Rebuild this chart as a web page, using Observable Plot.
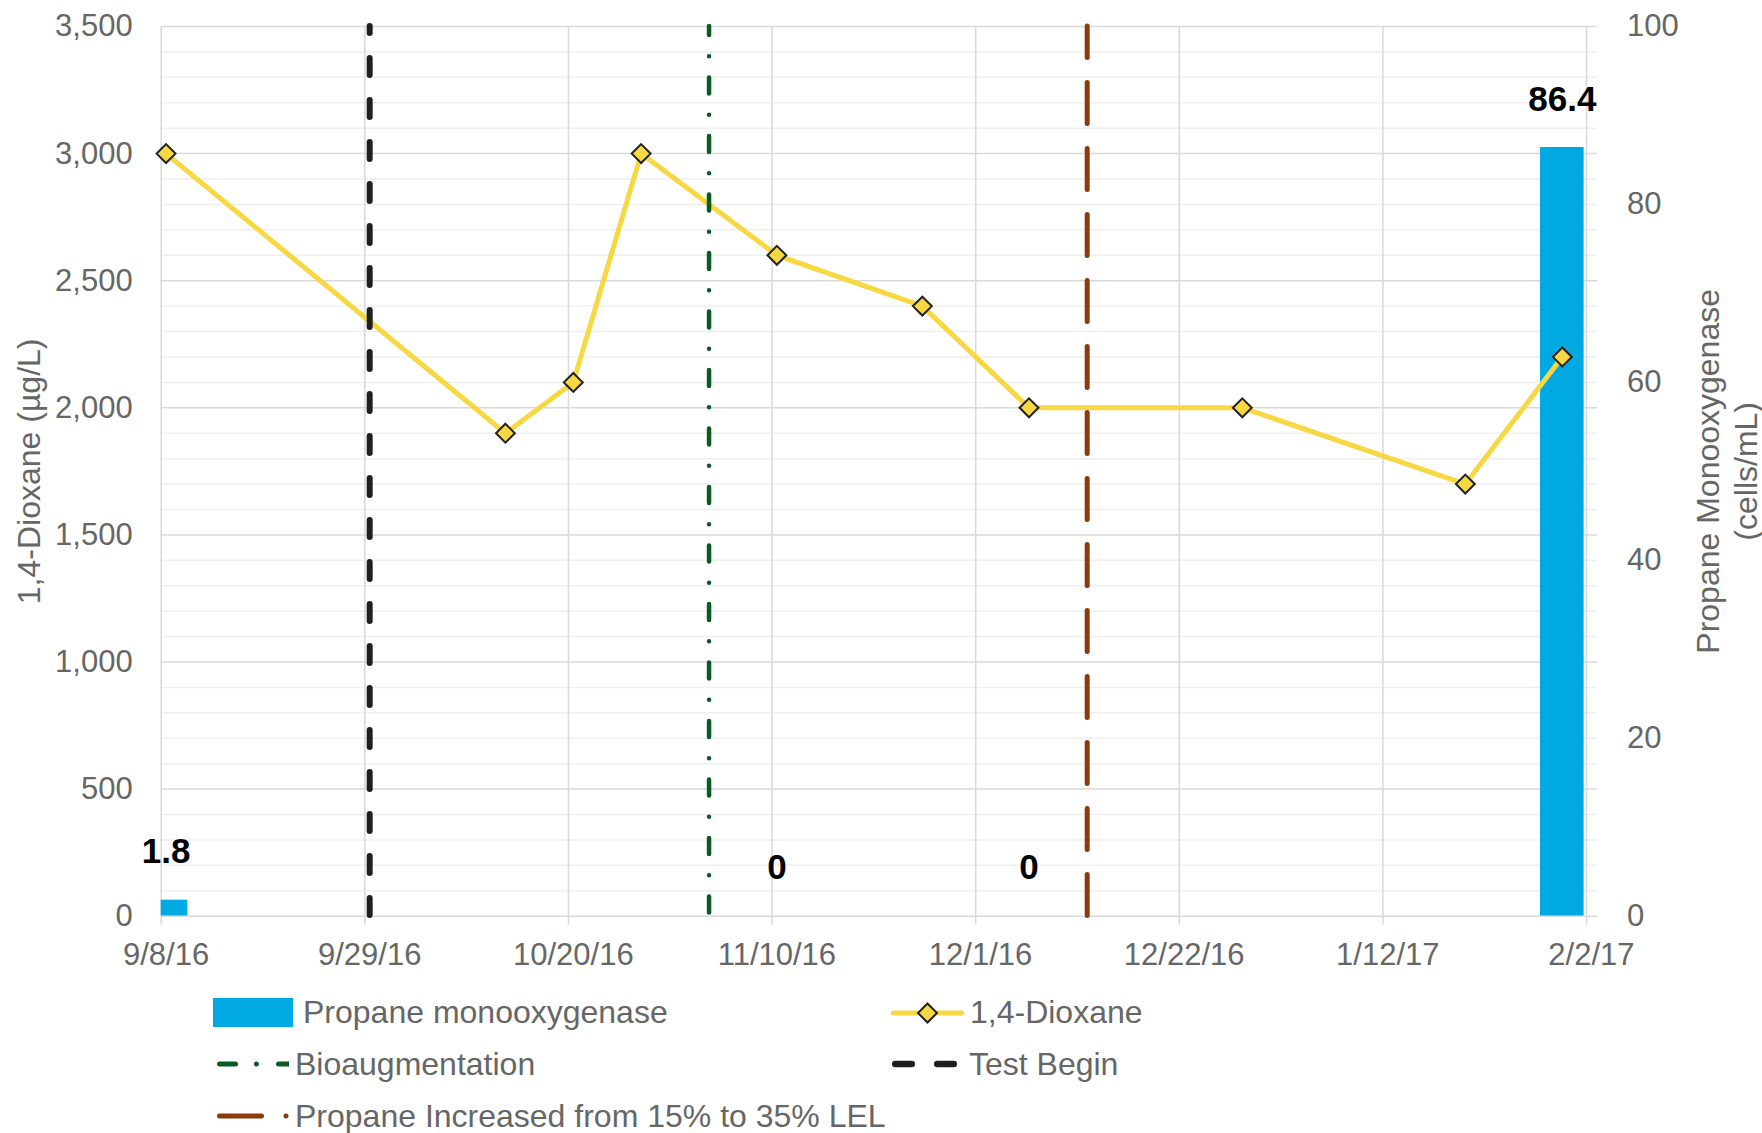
<!DOCTYPE html>
<html><head><meta charset="utf-8">
<script src="https://cdn.jsdelivr.net/npm/d3@7"></script>
<script src="https://cdn.jsdelivr.net/npm/@observablehq/plot@0.6"></script>
<style>
html,body{margin:0;padding:0;background:#fff;overflow:hidden;width:1762px;height:1133px;}
#chart svg{display:block;max-width:none;}
#legend{position:relative;width:1762px;height:153px;font-family:"Liberation Sans",Arial,sans-serif;font-size:32px;color:#666;}
.item{position:absolute;display:flex;align-items:center;height:40px;white-space:nowrap;}
.item svg{display:block;flex:none;}
</style></head>
<body>
<div id="chart"></div>
<div id="legend"></div>
<script>
// ---- data ----
const dioxaneDates = ["2016-09-08","2016-10-13","2016-10-20","2016-10-27","2016-11-10","2016-11-25","2016-12-06","2016-12-28","2017-01-20","2017-01-30"];
const dioxaneValues = [3000,1900,2100,3000,2600,2400,2000,2000,1700,2200];
const pmoDates = ["2016-09-08","2016-11-10","2016-12-06","2017-01-30"];
const pmoValues = [1.8,0,0,86.4];
const testBeginDate = "2016-09-29";
const bioaugDate = "2016-11-03";
const propaneIncDate = "2016-12-12";
const xTickDates = ["2016-09-08","2016-09-29","2016-10-20","2016-11-10","2016-12-01","2016-12-22","2017-01-12","2017-02-02"];
const leftTicks = [0,500,1000,1500,2000,2500,3000,3500];
const leftMinorTicks = [100,200,300,400,600,700,800,900,1100,1200,1300,1400,1600,1700,1800,1900,2100,2200,2300,2400,2600,2700,2800,2900,3100,3200,3300,3400];
const rightTicks = [0,20,40,60,80,100];
const leftMax = 3500, rightMax = 100;

// ---- helpers ----
const DAY = 864e5;
const parse = s => new Date(s + "T00:00:00Z");
const mid = s => new Date(+parse(s) + DAY / 2);
const ratio = leftMax / rightMax;
const barHalf = 2.25 * DAY;

const diox = dioxaneDates.map((d, i) => ({date: mid(d), value: dioxaneValues[i]}));
const pmo = pmoDates.map((d, i) => ({date: mid(d), x1: new Date(+mid(d) - barHalf), x2: new Date(+mid(d) + barHalf), value: pmoValues[i]}));
const xStart = parse(xTickDates[0]);
const xEnd = new Date(+parse(xTickDates[xTickDates.length - 1]) + 1.13 * DAY);

const font = '"Liberation Sans", Arial, sans-serif';
const W = 1762, H = 980;

const chart = Plot.plot({
  width: W, height: H,
  marginLeft: 160.7, marginRight: 165, marginTop: 26, marginBottom: H - 915.7,
  style: {fontFamily: font, fontSize: "31px", color: "#666", background: "#fff", overflow: "visible"},
  x: {type: "utc", domain: [xStart, xEnd]},
  y: {domain: [0, leftMax]},
  marks: [
    Plot.ruleY(leftMinorTicks, {stroke: "#efefef", strokeWidth: 1.5}),
    Plot.ruleY(leftTicks, {stroke: "#d9d9d9", strokeWidth: 1.5}),
    Plot.ruleX(xTickDates.map(parse), {stroke: "#d9d9d9", strokeWidth: 1.5, insetBottom: -9}),
    Plot.rect(pmo, {x1: "x1", x2: "x2", y1: 0, y2: d => d.value * ratio, fill: "#00A9E2", clip: true}),
    Plot.line(diox, {x: "date", y: "value", stroke: "#F7D843", strokeWidth: 5}),
    Plot.ruleX([mid(testBeginDate)], {stroke: "#1f1f1f", strokeWidth: 6, strokeDasharray: "17,25", strokeLinecap: "round", strokeDashoffset: 10}),
    Plot.ruleX([mid(bioaugDate)], {stroke: "#0B5A24", strokeWidth: 4.5, strokeDasharray: "16,21.25,0,21.25", strokeLinecap: "round", strokeDashoffset: 7}),
    Plot.ruleX([mid(propaneIncDate)], {stroke: "#8B3A0E", strokeWidth: 5, strokeDasharray: "41,25", strokeLinecap: "round", strokeDashoffset: 9.5}),
    Plot.dot(diox, {x: "date", y: "value", symbol: "diamond2", r: 8.5, fill: "#F7D843", stroke: "#222", strokeWidth: 2}),
    Plot.text(pmo, {x: "date", y: d => d.value * ratio, text: d => String(d.value), dy: -48, fontSize: 35, fontWeight: "bold", fill: "#000"}),
    Plot.axisX({ticks: xTickDates.map(mid), tickSize: 0, tickPadding: 27, tickFormat: d3.utcFormat("%-m/%-d/%y"), label: null}),
    Plot.axisY({anchor: "left", ticks: leftTicks, tickSize: 0, tickPadding: 28.5, tickFormat: d3.format(","), label: null}),
    Plot.axisY({anchor: "right", ticks: rightTicks.map(v => v * ratio), tickSize: 0, tickPadding: 29.5, tickFormat: d => String(Math.round(d / ratio)), label: null}),
    Plot.text(["1,4-Dioxane (µg/L)"], {text: d => d, frameAnchor: "left", textAnchor: "middle", rotate: -90, dx: 29 - 160.7, fontSize: 32, fill: "#666"}),
    Plot.text(["Propane Monooxygenase\n(cells/mL)"], {text: d => d, frameAnchor: "right", textAnchor: "middle", rotate: -90, dx: 128, fontSize: 32, lineHeight: 1.2, fill: "#666"})
  ]
});
document.getElementById("chart").appendChild(chart);

// ---- legend ----
const legendItems = [
  {left: 213, cy: 32.5, gap: 10, label: "Propane monooxygenase",
   svg: '<svg width="80" height="29"><rect width="80" height="29" fill="#00A9E2"/></svg>'},
  {left: 891, cy: 32.5, gap: 6, label: "1,4-Dioxane",
   svg: '<svg width="73" height="24"><line x1="2.5" y1="12" x2="70.5" y2="12" stroke="#F7D843" stroke-width="5" stroke-linecap="round"/><polygon points="36.5,2.5 46,12 36.5,21.5 27,12" fill="#F7D843" stroke="#222" stroke-width="2"/></svg>'},
  {left: 217, cy: 84, gap: 6, label: "Bioaugmentation",
   svg: '<svg width="72" height="10"><g stroke="#0B5A24" stroke-width="5" stroke-linecap="round"><line x1="2.5" y1="5" x2="18.5" y2="5"/><line x1="39.4" y1="5" x2="39.4" y2="5"/><line x1="61.5" y1="5" x2="72" y2="5"/></g></svg>'},
  {left: 891.6, cy: 84, gap: 12.4, label: "Test Begin",
   svg: '<svg width="65" height="10"><g stroke="#1f1f1f" stroke-width="6.5" stroke-linecap="round"><line x1="3.25" y1="5" x2="19.75" y2="5"/><line x1="45.25" y1="5" x2="61.75" y2="5"/></g></svg>'},
  {left: 217, cy: 136, gap: 6, label: "Propane Increased from 15% to 35% LEL",
   svg: '<svg width="72" height="10"><g stroke="#8B3A0E" stroke-width="5" stroke-linecap="round"><line x1="2.5" y1="5" x2="44.5" y2="5"/><line x1="69" y1="5" x2="69" y2="5"/></g></svg>'}
];
const legend = document.getElementById("legend");
for (const it of legendItems) {
  const div = document.createElement("div");
  div.className = "item";
  div.style.left = it.left + "px";
  div.style.top = (it.cy - 20) + "px";
  div.innerHTML = it.svg + '<span style="margin-left:' + it.gap + 'px">' + it.label + '</span>';
  legend.appendChild(div);
}
</script>
</body></html>
